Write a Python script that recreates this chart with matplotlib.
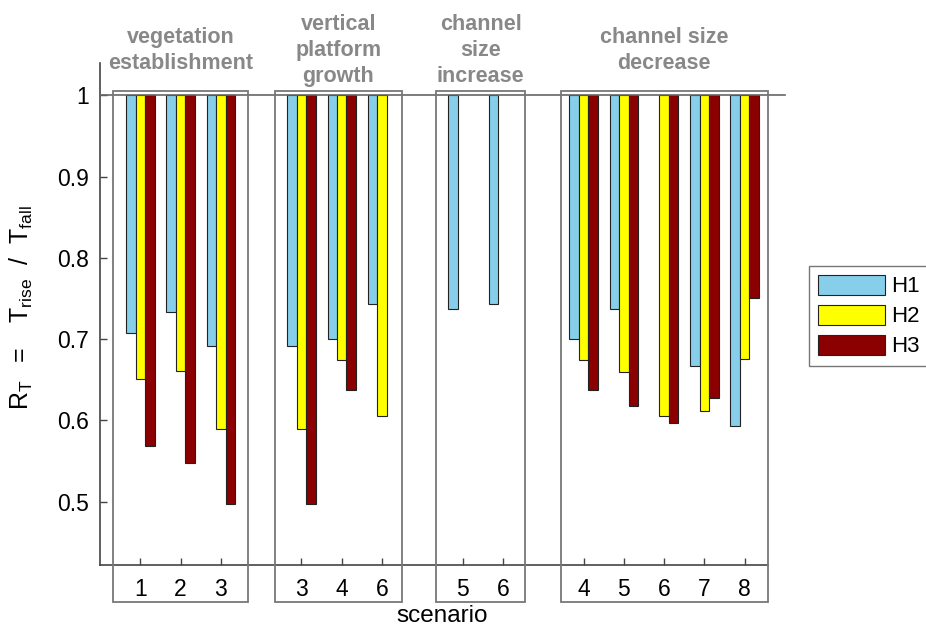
import numpy as np
import matplotlib
matplotlib.use('Agg')
from matplotlib import pyplot as plt
from matplotlib.patches import Rectangle
from matplotlib.transforms import blended_transform_factory

plt.rcParams['font.family'] = ['Liberation Sans', 'DejaVu Sans']
plt.rcParams['mathtext.fontset'] = 'custom'
plt.rcParams['mathtext.rm'] = 'Liberation Sans'
plt.rcParams['mathtext.it'] = 'Liberation Sans'

# groups of scenarios (one box each)
group_titles = ['vegetation\nestablishment', 'vertical\nplatform\ngrowth',
                'channel\nsize\nincrease', 'channel size\ndecrease']
group_scenarios = [[1, 2, 3], [3, 4, 6], [5, 6], [4, 5, 6, 7, 8]]

# R_T values per scenario slot, in order of the groups above (nan = no bar)
h1 = [0.707, 0.733, 0.692, 0.692, 0.700, 0.743, 0.737, 0.743,
      0.700, 0.737, np.nan, 0.667, 0.593]
h2 = [0.651, 0.661, 0.590, 0.590, 0.674, 0.605, np.nan, np.nan,
      0.674, 0.660, 0.605, 0.611, 0.676]
h3 = [0.569, 0.547, 0.497, 0.497, 0.637, np.nan, np.nan, np.nan,
      0.637, 0.618, 0.597, 0.627, 0.751]

series = {'H1': h1, 'H2': h2, 'H3': h3}
colours = {'H1': '#87ceeb', 'H2': '#ffff00', 'H3': '#8b0000'}

# x positions: one unit per scenario, one empty unit between groups
positions = []
x = 1
for scen in group_scenarios:
    positions.extend(range(x, x + len(scen)))
    x += len(scen) + 1
positions = np.array(positions, dtype=float)
tick_labels = [str(s) for scen in group_scenarios for s in scen]

# box padding around each group (left, right)
box_pad = [(0.67, 0.68), (0.66, 0.49), (0.66, 0.55), (0.57, 0.57)]

fig = plt.figure(figsize=(9.26, 6.28), dpi=100)
ax = fig.add_axes((0.108, 0.1003, 0.721, 0.7994))

width = 0.235
offsets = {'H1': -width, 'H2': 0.0, 'H3': width}
for name, values in series.items():
    vals = np.array(values)
    ax.bar(positions + offsets[name], vals - 1, bottom=1, width=width,
           color=colours[name], edgecolor='#222222', linewidth=0.8,
           label=name, zorder=3)

ax.set_xlim(0, 16.57)
ax.set_ylim(0.422, 1.04)

# reference line at 1, running a little past the axes
ax.plot([0, 17.0], [1, 1], color='#666666', lw=1.2, clip_on=False, zorder=4)

# boxes round each group, reaching down over the tick labels
trans = blended_transform_factory(ax.transData, fig.transFigure)
box_top = 1 - 90.5 / 628
box_bottom = 1 - 602 / 628
title_y = 1 - 50.5 / 628
start = 0
for title, scen, (pl, pr) in zip(group_titles, group_scenarios, box_pad):
    pos = positions[start:start + len(scen)]
    start += len(scen)
    left, right = pos[0] - pl, pos[-1] + pr
    ax.add_patch(Rectangle((left, box_bottom), right - left, box_top - box_bottom,
                           transform=trans, fill=False, edgecolor='#777777',
                           lw=1.3, clip_on=False, zorder=5))
    ax.text((left + right) / 2, title_y, title, transform=trans,
            ha='center', va='center', fontsize=15.5, fontweight='bold',
            color='#888888', linespacing=1.3)

ax.set_xticks(positions)
ax.set_xticklabels(tick_labels)
ax.set_yticks([0.5, 0.6, 0.7, 0.8, 0.9, 1.0])
ax.set_yticklabels(['0.5', '0.6', '0.7', '0.8', '0.9', '1'])
ax.tick_params(direction='in', length=5, width=1, colors='#444444',
               labelcolor='black', labelsize=16.5)
ax.tick_params(axis='x', pad=9)
ax.tick_params(axis='y', pad=8)

for side in ('top', 'right'):
    ax.spines[side].set_visible(False)
for side in ('left', 'bottom'):
    ax.spines[side].set_color('#444444')
    ax.spines[side].set_linewidth(1.2)

ax.set_xlabel('scenario', fontsize=17.5)
ax.xaxis.set_label_coords(0.513, -0.0797)
ax.set_ylabel(r'$\mathregular{R_T\ \ =\ \ \ T_{rise}\ \ /\ \ T_{fall}}$',
              fontsize=18)
ax.yaxis.set_label_coords(-0.097, 0.514)

leg = fig.legend(loc='upper left', bbox_to_anchor=(809 / 926, 1 - 266 / 628),
                 fontsize=16, frameon=True, fancybox=False, handlelength=3.0,
                 handleheight=1.0, handletextpad=0.3, borderpad=0.4,
                 labelspacing=0.33, borderaxespad=0)
leg.get_frame().set_edgecolor('#555555')
leg.get_frame().set_linewidth(1.0)

fig.savefig('out.png', dpi=100)
